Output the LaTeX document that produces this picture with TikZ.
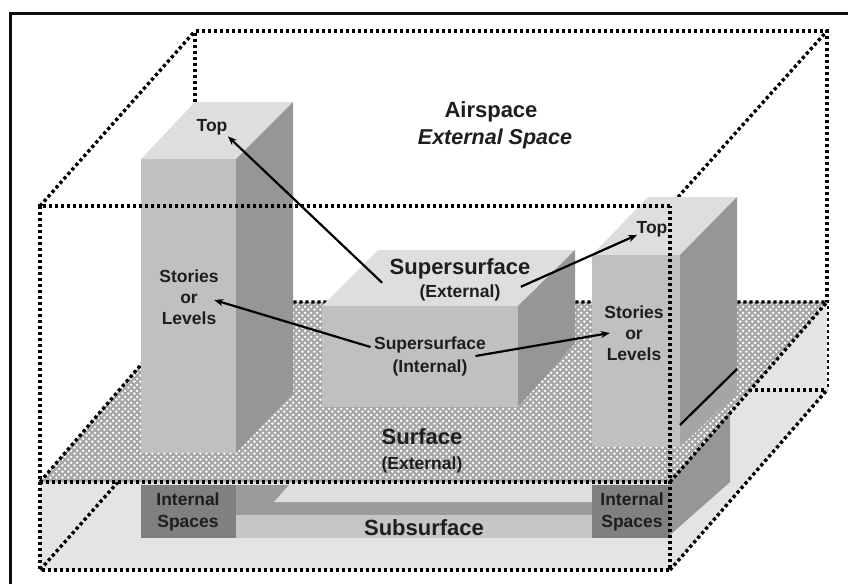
\documentclass[tikz,border=0pt]{standalone}
\usepackage{fontspec}
\setmainfont{Liberation Sans}
\usepackage{tikz}
\usetikzlibrary{arrows.meta,patterns}
\definecolor{framegray}{RGB}{15,15,15}
\definecolor{towerfront}{RGB}{192,192,192}
\definecolor{towerside}{RGB}{150,150,150}
\definecolor{towerlower}{RGB}{165,165,165}
\definecolor{towertop}{RGB}{222,222,222}
\definecolor{internalgray}{RGB}{128,128,128}
\definecolor{subfront}{RGB}{228,228,228}
\definecolor{bandgray}{RGB}{155,155,155}
\definecolor{bandlight}{RGB}{198,198,198}
\definecolor{planegray}{RGB}{165,165,165}
\definecolor{inkgray}{RGB}{30,30,30}
\pgfdeclarepatternformonly{surfacedots}{\pgfqpoint{0pt}{0pt}}{\pgfqpoint{6.2pt}{6.2pt}}{\pgfqpoint{6.2pt}{6.2pt}}{
  \pgfpathcircle{\pgfqpoint{1.55pt}{1.55pt}}{1.6pt}
  \pgfpathcircle{\pgfqpoint{4.65pt}{4.65pt}}{1.6pt}
  \pgfusepath{fill}
}
\tikzset{
  boxline/.style={line width=3.4pt,draw=black,dash pattern=on 3.2pt off 2.8pt},
  pointer/.style={line width=2.2pt,black,-{Stealth[length=9pt,width=7pt]}},
  bigtext/.style={font=\fontsize{22}{26}\selectfont\bfseries,text=inkgray},
  smalltext/.style={font=\fontsize{17.5}{21}\selectfont\bfseries,text=inkgray,align=center}
}
\begin{document}
\begin{tikzpicture}[x=1pt,y=-1pt]
  \useasboundingbox (0,0) rectangle (848,584);
  \fill[white] (0,0) rectangle (848,584);
  \draw[line width=3pt,framegray] (10,584) -- (10,13) -- (848,13);
  \draw[boxline] (195,102) -- (195,31) -- (827,31) -- (827,390);
  \draw[boxline] (40,206) -- (195,31);
  \draw[boxline] (670,206) -- (827,31);
  \fill[subfront] (40,482) -- (670,482) -- (670,570) -- (40,570) -- cycle;
  \fill[subfront] (670,482) -- (827,302) -- (827,390) -- (670,570) -- cycle;
  \draw[boxline] (118,482) -- (40,570);
  \draw[boxline] (749,390) -- (827,390);
  \fill[bandgray] (236,485) rectangle (592,515);
  \fill[bandlight] (236,515) rectangle (592,538);
  \fill[towertop] (274,502) -- (289,485) -- (592,485) -- (592,502) -- cycle;
  \fill[internalgray] (141,485) rectangle (236,538);
  \fill[internalgray] (592,485) rectangle (670,538);
  \fill[towerside] (670,482) -- (730,413) -- (730,482) -- (670,535) -- cycle;
  \fill[planegray] (40,482) -- (670,482) -- (827,302) -- (195,302) -- cycle;
  \fill[pattern=surfacedots,pattern color=white] (40,482) -- (670,482) -- (827,302) -- (195,302) -- cycle;
  \draw[boxline] (40,482) -- (195,302) -- (827,302);
  \draw[boxline] (670,482) -- (827,302);
  \fill[towertop] (141,159) -- (195,102) -- (293,102) -- (236,159) -- cycle;
  \fill[towerfront] (141,159) rectangle (236,453);
  \fill[towerside] (236,159) -- (293,102) -- (293,393) -- (236,453) -- cycle;
  \fill[towertop] (322,306) -- (378,250) -- (575,250) -- (518,306) -- cycle;
  \fill[towerfront] (322,306) rectangle (518,407);
  \fill[towerside] (518,306) -- (575,250) -- (575,343) -- (518,407) -- cycle;
  \fill[towertop] (592,255) -- (648,197) -- (737,197) -- (680,255) -- cycle;
  \fill[towerfront] (592,255) rectangle (680,447);
  \fill[towerside] (680,255) -- (737,197) -- (737,369) -- (680,425) -- cycle;
  \fill[towerlower] (680,425) -- (737,369) -- (737,393) -- (680,447) -- cycle;
  \draw[line width=2.2pt,black] (680,425) -- (737,369);
  \draw[boxline] (670,206) -- (40,206) -- (40,570) -- (670,570) -- (670,206);
  \draw[boxline] (40,482) -- (670,482);
  \draw[boxline] (670,570) -- (827,390);
  \node[bigtext] (airspace) at (491,112) {Airspace};
  \node[bigtext,font=\fontsize{21.5}{26}\selectfont\bfseries\itshape] (external) at (495,139) {External Space};
  \node[smalltext] (lefttop) at (212,127) {Top};
  \node[smalltext] (righttop) at (652,229) {Top};
  \node[smalltext] (leftstories) at (189,297) {Stories\\or\\Levels};
  \node[smalltext] (rightstories) at (634,333) {Stories\\or\\Levels};
  \node[bigtext] (supertop) at (460,269) {Supersurface};
  \node[smalltext] (supertopsub) at (460,293) {(External)};
  \node[smalltext] (superinner) at (430,356) {Supersurface\\[2pt](Internal)};
  \node[bigtext] (surface) at (422,437) {Surface};
  \node[smalltext] (surfacesub) at (422,465) {(External)};
  \node[bigtext] (subsurface) at (424,528) {Subsurface};
  \node[smalltext] (leftinternal) at (188,511.5) {Internal\\[1pt]Spaces};
  \node[smalltext] (rightinternal) at (632,511.5) {Internal\\[1pt]Spaces};
  \draw[pointer] ([xshift=-4pt]supertop.south west) -- ([xshift=-3pt,yshift=2pt]lefttop.south east);
  \draw[pointer] ([xshift=-13pt,yshift=-4pt]supertop.south east) -- ([xshift=4pt,yshift=1pt]righttop.200);
  \draw[pointer] ([yshift=9pt]superinner.west) -- ([xshift=-8pt,yshift=-3pt]leftstories.east);
  \draw[pointer] ([xshift=-14pt]superinner.east) -- ([xshift=9pt]rightstories.west);
\end{tikzpicture}
\end{document}
